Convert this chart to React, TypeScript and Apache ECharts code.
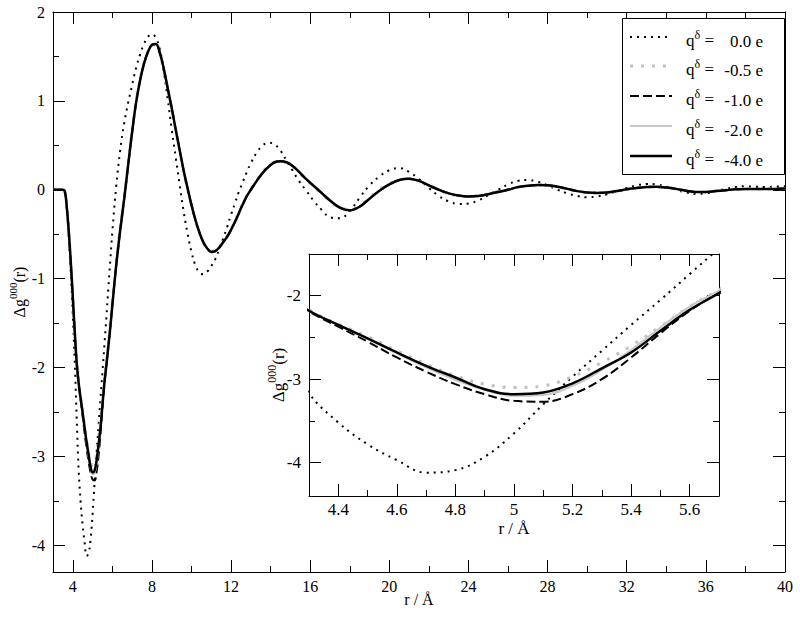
import React, { useEffect, useRef } from "react";
import * as echarts from "echarts";

// r grid (Å) shared by all curves
const rGrid = [
  3.0, 3.5,
  3.6, 3.7, 3.8, 3.9, 4.0, 4.1, 4.2, 4.3, 4.4, 4.5, 4.6, 4.7, 4.8, 4.9, 5.0, 5.1, 5.2, 5.3, 5.4, 5.5, 5.6, 5.7, 5.8, 5.9,
  6.0, 6.2, 6.4, 6.6, 6.8, 7.0, 7.2, 7.4, 7.6, 7.8, 8.0, 8.2, 8.4, 8.6, 8.8, 9.0, 9.2, 9.4, 9.6, 9.8, 10.0, 10.2, 10.4, 10.6, 10.8, 11.0, 11.2, 11.4, 11.6, 11.8, 12.0, 12.2, 12.4, 12.6, 12.8, 13.0,
  13.3, 13.6, 13.9, 14.2, 14.5, 14.8, 15.1, 15.4, 15.8, 16.2, 16.6, 17.0,
  17.5, 18.0, 18.5, 19.0, 19.5, 20.0, 20.5, 21.0, 21.5, 22.0, 22.5, 23.0, 23.5, 24.0, 24.5, 25.0, 25.5, 26.0, 26.5, 27.0, 27.5, 28.0, 28.5, 29.0, 29.5, 30.0, 30.5, 31.0, 31.5, 32.0, 32.5, 33.0, 33.5, 34.0, 34.5, 35.0, 35.5, 36.0, 36.5, 37.0, 37.5, 38.0, 38.5, 39.0, 39.5, 40.0,
];

// q = 0.0 e
const g_q00 = [
  0, 0,
  -0.03, -0.22, -0.54, -0.93, -1.4, -1.95, -2.58, -3.17, -3.52, -3.78, -3.97, -4.12, -4.09, -3.93, -3.65, -3.3, -2.97, -2.66, -2.35, -2.05, -1.74, -1.43, -1.1, -0.78,
  -0.47, 0.05, 0.45, 0.75, 0.98, 1.18, 1.37, 1.52, 1.64, 1.72, 1.75, 1.71, 1.58, 1.33, 1.02, 0.68, 0.37, 0.06, -0.24, -0.49, -0.7, -0.85, -0.93, -0.95, -0.92, -0.86, -0.78, -0.67, -0.55, -0.42, -0.28, -0.15, -0.02, 0.09, 0.2, 0.3,
  0.42, 0.5, 0.53, 0.51, 0.44, 0.33, 0.22, 0.11, -0.01, -0.13, -0.23, -0.31,
  -0.32, -0.24, -0.09, 0.05, 0.15, 0.22, 0.245, 0.2, 0.12, 0.02, -0.07, -0.13, -0.16, -0.155, -0.12, -0.06, 0.0, 0.06, 0.1, 0.11, 0.09, 0.05, 0.0, -0.04, -0.07, -0.084, -0.075, -0.05, -0.015, 0.02, 0.05, 0.066, 0.06, 0.035, 0.0, -0.03, -0.045, -0.04, -0.015, 0.01, 0.03, 0.04, 0.035, 0.03, 0.035, 0.04,
];

// q = -0.5 e
const g_q05 = [
  0, 0,
  -0.02, -0.2, -0.48, -0.82, -1.2, -1.6, -1.94, -2.17, -2.34, -2.49, -2.66, -2.82, -2.96, -3.06, -3.1, -3.08, -2.97, -2.8, -2.6, -2.37, -2.13, -1.93, -1.72, -1.5,
  -1.27, -0.82, -0.43, -0.08, 0.3, 0.67, 0.99, 1.24, 1.43, 1.56, 1.63, 1.63, 1.53, 1.35, 1.13, 0.91, 0.67, 0.44, 0.21, 0.01, -0.18, -0.35, -0.49, -0.6, -0.67, -0.69, -0.68, -0.64, -0.58, -0.52, -0.44, -0.35, -0.25, -0.15, -0.06, 0.01,
  0.11, 0.2, 0.27, 0.31, 0.32, 0.3, 0.26, 0.2, 0.11, 0.03, -0.05, -0.13,
  -0.2, -0.22, -0.18, -0.09, 0.0, 0.07, 0.11, 0.12, 0.095, 0.045, -0.005, -0.045, -0.068, -0.075, -0.066, -0.045, -0.02, 0.005, 0.032, 0.046, 0.054, 0.048, 0.032, 0.008, -0.017, -0.031, -0.034, -0.028, -0.012, 0.007, 0.022, 0.031, 0.034, 0.023, 0.008, -0.012, -0.025, -0.024, -0.013, -0.003, 0.006, 0.011, 0.01, 0.01, 0.011, 0.015,
];

// q = -1.0 e
const g_q10 = [
  0, 0,
  -0.02, -0.2, -0.49, -0.83, -1.21, -1.61, -1.96, -2.19, -2.37, -2.55, -2.74, -2.91, -3.06, -3.18, -3.26, -3.27, -3.18, -3.0, -2.74, -2.45, -2.18, -1.96, -1.75, -1.53,
  -1.29, -0.84, -0.45, -0.1, 0.28, 0.65, 0.98, 1.23, 1.42, 1.55, 1.63, 1.64, 1.54, 1.36, 1.14, 0.92, 0.68, 0.45, 0.22, 0.02, -0.17, -0.34, -0.48, -0.59, -0.66, -0.7, -0.69, -0.65, -0.59, -0.53, -0.45, -0.36, -0.26, -0.16, -0.07, 0.0,
  0.1, 0.19, 0.26, 0.31, 0.32, 0.31, 0.27, 0.21, 0.12, 0.04, -0.04, -0.12,
  -0.2, -0.23, -0.19, -0.1, -0.01, 0.06, 0.11, 0.125, 0.1, 0.05, 0.0, -0.04, -0.065, -0.075, -0.07, -0.05, -0.025, 0.0, 0.03, 0.045, 0.055, 0.05, 0.035, 0.01, -0.015, -0.03, -0.035, -0.03, -0.015, 0.005, 0.02, 0.03, 0.035, 0.025, 0.01, -0.01, -0.025, -0.025, -0.015, -0.005, 0.005, 0.01, 0.01, 0.01, 0.01, 0.015,
];

// q = -2.0 e
const g_q20 = [
  0, 0,
  -0.02, -0.2, -0.48, -0.82, -1.2, -1.6, -1.95, -2.18, -2.35, -2.52, -2.69, -2.86, -3.01, -3.13, -3.2, -3.19, -3.08, -2.89, -2.65, -2.38, -2.13, -1.94, -1.73, -1.52,
  -1.29, -0.83, -0.44, -0.09, 0.29, 0.66, 0.98, 1.23, 1.42, 1.55, 1.63, 1.64, 1.54, 1.36, 1.14, 0.92, 0.68, 0.45, 0.22, 0.02, -0.17, -0.34, -0.48, -0.59, -0.66, -0.7, -0.69, -0.65, -0.59, -0.53, -0.45, -0.36, -0.26, -0.16, -0.07, 0.0,
  0.1, 0.19, 0.26, 0.31, 0.32, 0.31, 0.27, 0.21, 0.12, 0.04, -0.04, -0.12,
  -0.2, -0.23, -0.19, -0.1, -0.01, 0.06, 0.11, 0.125, 0.1, 0.05, 0.0, -0.04, -0.065, -0.075, -0.07, -0.05, -0.025, 0.0, 0.03, 0.045, 0.055, 0.05, 0.035, 0.01, -0.015, -0.03, -0.035, -0.03, -0.015, 0.005, 0.02, 0.03, 0.035, 0.025, 0.01, -0.01, -0.025, -0.025, -0.015, -0.005, 0.005, 0.01, 0.01, 0.01, 0.01, 0.015,
];

// q = -4.0 e
const g_q40 = [
  0, 0,
  -0.02, -0.2, -0.48, -0.82, -1.2, -1.6, -1.95, -2.18, -2.35, -2.51, -2.68, -2.84, -2.98, -3.12, -3.18, -3.16, -3.05, -2.87, -2.68, -2.42, -2.17, -1.97, -1.76, -1.54,
  -1.3, -0.84, -0.45, -0.1, 0.28, 0.65, 0.98, 1.23, 1.42, 1.55, 1.63, 1.64, 1.54, 1.36, 1.14, 0.92, 0.68, 0.45, 0.22, 0.02, -0.17, -0.34, -0.48, -0.59, -0.66, -0.7, -0.69, -0.65, -0.59, -0.53, -0.45, -0.36, -0.26, -0.16, -0.07, 0.0,
  0.1, 0.19, 0.26, 0.31, 0.32, 0.31, 0.27, 0.21, 0.12, 0.04, -0.04, -0.12,
  -0.2, -0.23, -0.19, -0.1, -0.01, 0.06, 0.11, 0.125, 0.1, 0.05, 0.0, -0.04, -0.065, -0.075, -0.07, -0.05, -0.025, 0.0, 0.03, 0.045, 0.055, 0.05, 0.035, 0.01, -0.015, -0.03, -0.035, -0.03, -0.015, 0.005, 0.02, 0.03, 0.035, 0.025, 0.01, -0.01, -0.025, -0.025, -0.015, -0.005, 0.005, 0.01, 0.01, 0.01, 0.01, 0.015,
];

const legendValues = ["0.0 e", "-0.5 e", "-1.0 e", "-2.0 e", "-4.0 e"];

const mainXMajor = [4, 8, 12, 16, 20, 24, 28, 32, 36, 40];
const mainXMinor = [6, 10, 14, 18, 22, 26, 30, 34, 38];
const mainYMajor = [-4, -3, -2, -1, 0, 1, 2];
const mainYMinor = [-3.5, -2.5, -1.5, -0.5, 0.5, 1.5];
const insetXMajor = [4.4, 4.6, 4.8, 5, 5.2, 5.4, 5.6];
const insetXMinor = [4.5, 4.7, 4.9, 5.1, 5.3, 5.5];
const insetYMajor = [-4, -3, -2];
const insetYMinor = [-3.5, -2.5];

const FONT = "Liberation Serif";

function richFor(size: number) {
  return {
    b: { fontFamily: FONT, fontSize: size, lineHeight: size + 4, verticalAlign: "bottom", color: "#000" },
    s: { fontFamily: FONT, fontSize: Math.round(size * 0.68), lineHeight: Math.round(size * 0.68), verticalAlign: "top", color: "#000" },
  };
}

function makeAxes(
  dim: "x" | "y",
  gridIndex: number,
  min: number,
  max: number,
  major: number[],
  minor: number[],
  name: string,
  nameGap: number,
  margin: number,
  rich: boolean,
  fontSize: number
) {
  const p1 = dim === "x" ? "bottom" : "left";
  const p2 = dim === "x" ? "top" : "right";
  const base: any = {
    type: "value",
    gridIndex,
    min,
    max,
    splitLine: { show: false },
    silent: true,
  };
  const line = { show: true, onZero: false, lineStyle: { color: "#000", width: 1 } };
  const noLine = { show: false, onZero: false };
  const tick = (vals: number[], len: number) => ({
    show: true,
    inside: true,
    length: len,
    customValues: vals,
    lineStyle: { color: "#000", width: 1 },
  });
  const noLabel = (vals: number[]) => ({ show: false, customValues: vals });
  return [
    {
      ...base,
      position: p1,
      axisLine: line,
      axisTick: tick(major, 12),
      axisLabel: {
        show: true,
        customValues: major,
        margin,
        color: "#000",
        fontFamily: FONT,
        fontSize,
      },
      name,
      nameLocation: "middle",
      nameGap,
      nameMoveOverlap: false,
      nameTextStyle: rich
        ? { fontFamily: FONT, fontSize, color: "#000", rich: richFor(fontSize) }
        : { fontFamily: FONT, fontSize, color: "#000" },
    },
    { ...base, position: p1, axisLine: noLine, axisTick: tick(minor, 6), axisLabel: noLabel(minor) },
    { ...base, position: p2, axisLine: line, axisTick: tick(major, 12), axisLabel: noLabel(major) },
    { ...base, position: p2, axisLine: noLine, axisTick: tick(minor, 6), axisLabel: noLabel(minor) },
  ];
}

const seriesDefs = [
  { label: legendValues[0], data: g_q00, color: "#000", width: 2, type: [2, 5] as any },
  { label: legendValues[1], data: g_q05, color: "#c0c0c0", width: 3, type: [3, 8] as any },
  { label: legendValues[2], data: g_q10, color: "#000", width: 2, type: [9, 4] as any },
  { label: legendValues[3], data: g_q20, color: "#c8c8c8", width: 2, type: "solid" as any },
  { label: legendValues[4], data: g_q40, color: "#000", width: 2.5, type: "solid" as any },
];

function buildOption() {
  const xAxes = [
    ...makeAxes("x", 0, 3, 40, mainXMajor, mainXMinor, "r / Å", 19, 6, false, 16),
    ...makeAxes("x", 1, 4.3, 5.7, insetXMajor, insetXMinor, "r / Å", 24, 5, false, 17),
  ];
  const yAxes = [
    ...makeAxes("y", 0, -4.3, 2, mainYMajor, mainYMinor, "{b|Δg}{s|000}{b|(r)}", 26, 8, true, 16),
    ...makeAxes("y", 1, -4.4, -1.5, insetYMajor, insetYMinor, "{b|Δg}{s|000}{b|(r)}", 22, 8, true, 17),
  ];

  const series: any[] = [];
  [0, 4].forEach((axisIdx) => {
    seriesDefs.forEach((d) => {
      series.push({
        type: "line",
        name: "q " + d.label,
        xAxisIndex: axisIdx,
        yAxisIndex: axisIdx,
        data: rGrid.map((r, i) => [r, d.data[i]]),
        showSymbol: false,
        symbol: "none",
        smooth: 0.4,
        clip: true,
        silent: true,
        lineStyle: { color: d.color, width: d.width, type: d.type, cap: "butt" },
      });
    });
  });

  const rowY = [37, 66, 96, 126, 156];
  const legendEls: any[] = [
    {
      type: "rect",
      shape: { x: 622.5, y: 18.5, width: 162, height: 156 },
      style: { fill: "#fff", stroke: "#000", lineWidth: 1 },
      z: 100,
    },
  ];
  seriesDefs.forEach((d, i) => {
    const y = rowY[i];
    legendEls.push({
      type: "line",
      shape: { x1: 630, y1: y, x2: 672, y2: y },
      style: {
        stroke: d.color,
        lineWidth: d.width,
        lineDash: Array.isArray(d.type) ? d.type : null,
      },
      z: 101,
    });
    legendEls.push({
      type: "text",
      x: 686,
      y: y + 2,
      style: {
        text: "{b|q}{s|δ}{b| =}",
        verticalAlign: "middle",
        align: "left",
        rich: {
          b: { fontFamily: FONT, fontSize: 17, lineHeight: 20, verticalAlign: "bottom", fill: "#000" },
          s: { fontFamily: FONT, fontSize: 12, lineHeight: 12, verticalAlign: "top", fill: "#000" },
        },
      },
      z: 101,
    });
    legendEls.push({
      type: "text",
      x: 763,
      y: y + 4,
      style: {
        text: d.label,
        fontFamily: FONT,
        fontSize: 17,
        fill: "#000",
        align: "right",
        verticalAlign: "middle",
      },
      z: 101,
    });
  });

  return {
    animation: false,
    backgroundColor: "#fff",
    grid: [
      { left: 53, right: 15, top: 12, bottom: 47, containLabel: false, outerBoundsMode: "none" },
      { left: 309, right: 81, top: 254, bottom: 123, containLabel: false, outerBoundsMode: "none" },
    ],
    xAxis: xAxes,
    yAxis: yAxes,
    series,
    graphic: legendEls,
  };
}

export default function App() {
  const ref = useRef<HTMLDivElement>(null);
  useEffect(() => {
    if (!ref.current) return;
    const chart = echarts.init(ref.current, null, { renderer: "svg" });
    chart.setOption(buildOption() as any);
    return () => chart.dispose();
  }, []);
  return (
    <div
      ref={ref}
      style={{ position: "fixed", left: 0, top: 0, width: 800, height: 619, background: "#fff" }}
    />
  );
}
